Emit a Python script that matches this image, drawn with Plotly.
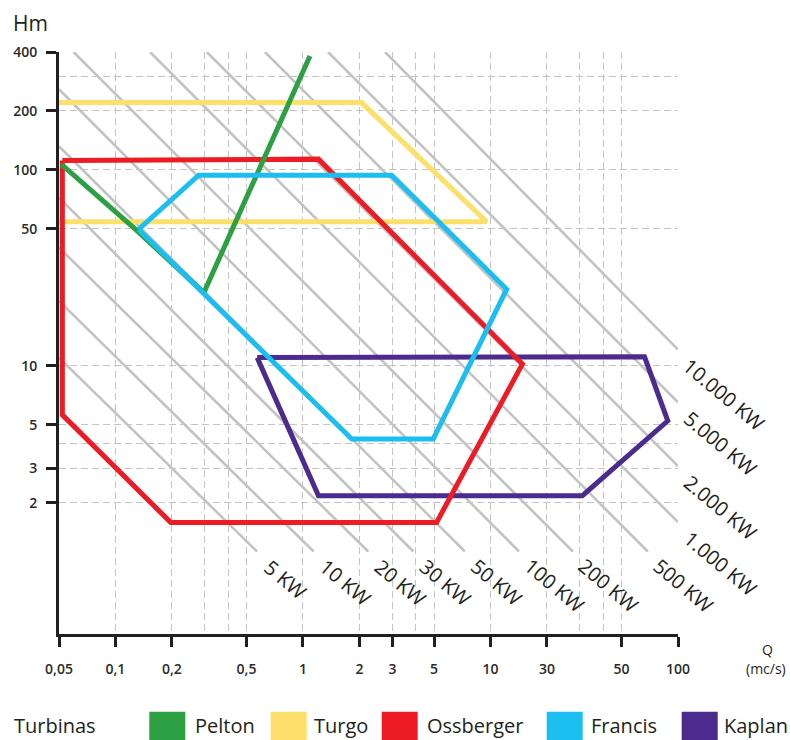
import math
import plotly.graph_objects as go

# ---------------- data ----------------
x_tick_vals = [0.05, 0.1, 0.2, 0.5, 1, 2, 3, 5, 10, 20, 50, 100]
x_tick_text = ["0,05", "0,1", "0,2", "0,5", "1", "2", "3", "5", "10", "30", "50", "100"]
x_minor_grid = [0.3, 0.4, 4, 30, 40]
y_tick_vals = [2, 3, 5, 10, 50, 100, 200, 400]
y_tick_text = ["2", "3", "5", "10", "50", "100", "200", "400"]
y_minor_grid = [4, 300]

power_labels = ["5 KW", "10 KW", "20 KW", "30 KW", "50 KW", "100 KW", "200 KW",
                "500 KW", "1.000 KW", "2.000 KW", "5.000 KW", "10.000 KW"]
power_q_start = [0.05, 0.05, 0.05, 0.05, 0.05, 0.05, 0.0598, 0.153, 0.307, 0.627, 1.36, 2.74]
power_h_start = [11.0, 21.4, 40.1, 72.2, 132, 258, 400, 400, 400, 400, 400, 400]
power_q_end = [0.569, 1.14, 2.23, 3.88, 7.30, 14.2, 27.5, 69.0, 100, 100, 100, 100]
power_h_end = [1.125, 1.125, 1.125, 1.125, 1.125, 1.125, 1.125, 1.125, 1.59, 3.07, 6.51, 12.1]

turbine_names = ["Pelton", "Turgo", "Ossberger", "Francis", "Kaplan"]
turbine_colors = ["#2ca043", "#fde06b", "#ed1c24", "#1cbef0", "#4b2c8e"]

pelton_q = [0.0515, 0.128, 0.296, 1.09]
pelton_h = [106.7, 49.7, 23.6, 382]
turgo_q = [0.05, 2.05, 9.53, 0.05]
turgo_h = [220.6, 220.6, 54.4, 54.4]
ossberger_q = [0.0521, 1.21, 14.8, 5.16, 0.197, 0.0521, 0.0521]
ossberger_h = [111.8, 113.5, 10.2, 1.585, 1.585, 5.61, 111.8]
francis_q = [0.1328, 0.278, 2.97, 12.2, 4.95, 1.82, 0.1328]
francis_h = [49.7, 94.0, 94.0, 24.6, 4.22, 4.22, 49.7]
kaplan_q = [0.57, 66.3, 88.2, 30.9, 1.21, 0.57]
kaplan_h = [11.0, 11.1, 5.23, 2.17, 2.17, 11.0]

# ---------------- layout constants ----------------
W, H = 790, 740
ML, MR, MT, MB = 59, 112, 52, 106
PW, PH = W - ML - MR, H - MT - MB
FONT = "Open Sans"
INK = "#231f20"
GRID = "#c4c4c4"


def px(x):
    return (x - ML) / PW


def py(y):
    return (H - MB - y) / PH


fig = go.Figure()

# power lines
for i in range(len(power_labels)):
    fig.add_trace(go.Scatter(
        x=[power_q_start[i], power_q_end[i]], y=[power_h_start[i], power_h_end[i]],
        mode="lines", line=dict(color="#c3c3c3", width=2.6),
        hoverinfo="skip", showlegend=False))

series = {
    "Turgo": (turgo_q, turgo_h),
    "Kaplan": (kaplan_q, kaplan_h),
    "Ossberger": (ossberger_q, ossberger_h),
    "Pelton": (pelton_q, pelton_h),
    "Francis": (francis_q, francis_h),
}
for name, (q, h) in series.items():
    c = turbine_colors[turbine_names.index(name)]
    fig.add_trace(go.Scatter(x=q, y=h, mode="lines", name=name,
                             line=dict(color=c, width=5), showlegend=False))

annotations = []
# power labels
ang = math.radians(44)
for i, lab in enumerate(power_labels):
    m = 20 + 4.9 * len(lab)
    annotations.append(dict(
        x=math.log10(power_q_end[i]), y=math.log10(power_h_end[i]), xref="x", yref="y",
        text=lab, showarrow=False, textangle=40,
        xshift=m * math.cos(ang), yshift=-m * math.sin(ang),
        xanchor="center", yanchor="middle",
        font=dict(family=FONT, size=20, color=INK)))

annotations.append(dict(x=px(11), y=py(23), xref="paper", yref="paper", text="Hm",
                        showarrow=False, xanchor="left", yanchor="middle",
                        font=dict(family=FONT, size=21, color=INK)))
annotations.append(dict(x=px(767), y=py(649), xref="paper", yref="paper", text="Q",
                        showarrow=False, xanchor="center", yanchor="middle",
                        font=dict(family=FONT, size=14, color=INK)))
annotations.append(dict(x=px(766), y=py(668), xref="paper", yref="paper", text="(mc/s)",
                        showarrow=False, xanchor="center", yanchor="middle",
                        font=dict(family=FONT, size=14, color=INK)))

# legend
annotations.append(dict(x=px(12), y=py(726), xref="paper", yref="paper", text="Turbinas",
                        showarrow=False, xanchor="left", yanchor="middle",
                        font=dict(family=FONT, size=20, color=INK)))
sq_left = [149.3, 270.7, 381.7, 546.7, 681.7]
txt_left = [193, 312, 425, 589, 721.7]
shapes = []
for i, name in enumerate(turbine_names):
    shapes.append(dict(type="rect", xref="paper", yref="paper",
                       x0=px(sq_left[i]), x1=px(sq_left[i] + 36),
                       y0=py(746), y1=py(711.7),
                       fillcolor=turbine_colors[i], line=dict(width=0)))
    annotations.append(dict(x=px(txt_left[i]), y=py(726), xref="paper", yref="paper",
                            text=name, showarrow=False, xanchor="left", yanchor="middle",
                            font=dict(family=FONT, size=20, color=INK)))

axis_common = dict(
    type="log", showline=True, linecolor=INK, linewidth=3,
    ticks="outside", ticklen=10, tickwidth=3, tickcolor=INK,
    tickmode="array", showgrid=True, gridcolor=GRID, gridwidth=1.3,
    griddash="7px,4px", zeroline=False,
    tickfont=dict(family=FONT, size=14, color="#2a2a2a", weight=600),
)

fig.update_layout(
    width=W, height=H, margin=dict(l=ML, r=MR, t=MT, b=MB, pad=0),
    paper_bgcolor="white", plot_bgcolor="white",
    xaxis=dict(axis_common, range=[math.log10(0.05), math.log10(100)],
               tickvals=x_tick_vals, ticktext=x_tick_text, ticklabelstandoff=10,
               minor=dict(tickmode="array", tickvals=x_minor_grid, showgrid=True,
                          gridcolor=GRID, gridwidth=1.3, griddash="7px,4px", ticklen=0)),
    yaxis=dict(axis_common, range=[math.log10(0.4266), math.log10(400)],
               tickvals=y_tick_vals, ticktext=y_tick_text, ticklabelstandoff=6,
               minor=dict(tickmode="array", tickvals=y_minor_grid, showgrid=True,
                          gridcolor=GRID, gridwidth=1.3, griddash="7px,4px", ticklen=0)),
    annotations=annotations, shapes=shapes, showlegend=False,
)

fig.write_html("out.html", config={"displayModeBar": False},
               post_script="document.body.style.margin='0';")
